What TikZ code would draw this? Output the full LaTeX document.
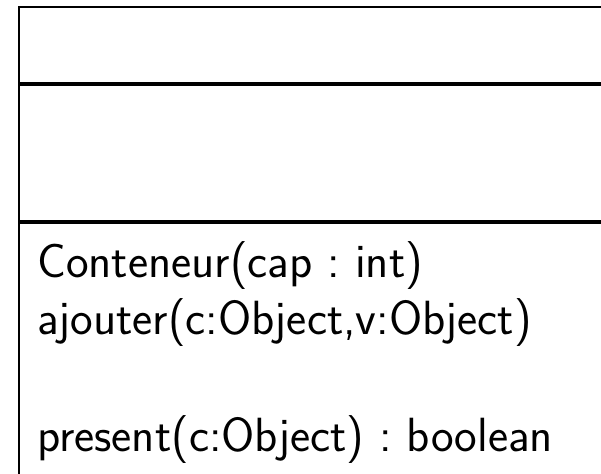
\documentclass[tikz,border=0pt]{standalone}
\usepackage{fontspec}
\frenchspacing
\begin{document}
\begin{tikzpicture}[x=1pt,y=-1pt,
  compartment/.style={draw=black,line width=2pt,rectangle,inner sep=0pt,anchor=north west,minimum width=640pt},
  member/.style={anchor=base west,inner sep=0pt,font=\sffamily\fontsize{48}{57}\selectfont}]
\useasboundingbox (0,0) rectangle (601,473);
\clip (0,0) rectangle (601,473);
\node[compartment,minimum height=76pt] (name) at (18,6) {};
\node[compartment,minimum height=136pt] (attrs) at (name.south west) {};
\node[compartment,minimum height=300pt] (ops) at (attrs.south west) {};
\node[member] (op1) at (37,277) {Conteneur(cap : int)};
\node[member] (op2) at (37,334) {ajouter(c:Object,v:Object)};
\node[member] (op3) at (37,451) {present(c:Object) : boolean};
\end{tikzpicture}
\end{document}
